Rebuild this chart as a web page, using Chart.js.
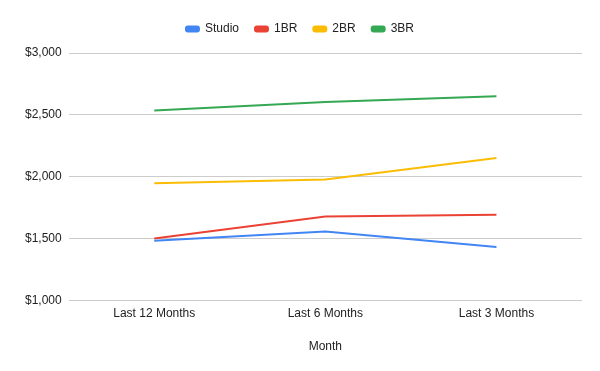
<!DOCTYPE html>
<html>
<head>
<meta charset="utf-8">
<script src="https://cdn.jsdelivr.net/npm/chart.js@4"></script>
<style>
  html, body { margin: 0; padding: 0; background: #fff; }
  #wrap { width: 600px; height: 371px; }
</style>
</head>
<body>
<div id="wrap"><canvas id="myChart"></canvas></div>
<script>
// categories and series
const months = ['Last 12 Months', 'Last 6 Months', 'Last 3 Months'];
const studio = [1480, 1555, 1430];
const oneBR = [1500, 1677, 1692];
const twoBR = [1947, 1976, 2150];
const threeBR = [2535, 2603, 2650];
const yTicks = [1000, 1500, 2000, 2500, 3000];

//colors
const blue = '#4285F4';
const red = '#EA4335';
const yellow = '#FBBC04';
const green = '#34A853';

function series(label, values, color){
    return {
        label: label,
        data: values,
        borderColor: color,
        backgroundColor: color,
        borderWidth: 2,
        pointRadius: 0,
        tension: 0
    };
}

const data = {
    labels: months,
    datasets: [
        series('Studio', studio, blue),
        series('1BR', oneBR, red),
        series('2BR', twoBR, yellow),
        series('3BR', threeBR, green)
    ]
};

const font = { family: "'Liberation Sans', Arial, sans-serif", size: 12 };

//extra room under the legend
const legendMargin = {
    id: 'legendMargin',
    beforeInit(chart){
        const fit = chart.legend.fit;
        chart.legend.fit = function(){
            fit.bind(chart.legend)();
            this.height += 8;
        };
    }
};

const config = {
    type: 'line',
    data: data,
    plugins: [legendMargin],
    options: {
        responsive: true,
        maintainAspectRatio: false,
        animation: false,
        layout: {
            padding: { left: 18, right: 18, top: 7, bottom: 13 }
        },
        plugins: {
            legend: {
                position: 'top',
                labels: {
                    color: '#222',
                    font: font,
                    boxWidth: 13,
                    boxHeight: 5,
                    useBorderRadius: true,
                    borderRadius: 2,
                    padding: 16
                }
            },
            tooltip: { enabled: false }
        },
        scales: {
            x: {
                offset: true,
                grid: { display: false, drawTicks: false },
                border: { display: false },
                ticks: { color: '#222', font: font, padding: 6 },
                title: {
                    display: true,
                    text: 'Month',
                    color: '#222',
                    font: font,
                    padding: { top: 13 }
                }
            },
            y: {
                min: 1000,
                max: 3000,
                afterBuildTicks: function(axis){
                    axis.ticks = yTicks.map(v => ({ value: v }));
                },
                grid: { color: '#cccccc', drawTicks: false },
                border: { display: false },
                ticks: {
                    color: '#222',
                    font: font,
                    padding: 7,
                    callback: function(value){
                        return '$' + value.toLocaleString('en-US');
                    }
                }
            }
        }
    }
};

const ctx = document.getElementById('myChart').getContext('2d');
const myChart = new Chart(ctx, config);
</script>
</body>
</html>
